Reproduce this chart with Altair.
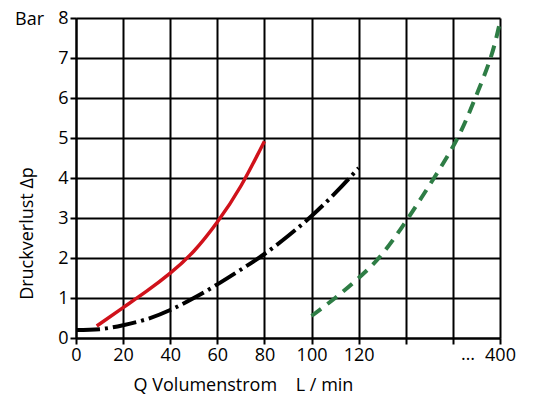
import altair as alt
import pandas as pd

# Data (x in grid units; 180 = "400")
red_x = [8.8, 20, 30, 40, 50, 60, 70, 80]
red_y = [0.3, 0.76, 1.17, 1.62, 2.17, 2.9, 3.8, 4.92]

black_x = [0, 10, 20, 30, 40, 50, 60, 70, 80, 90, 100, 110, 120]
black_y = [0.2, 0.22, 0.32, 0.47, 0.7, 1.0, 1.34, 1.71, 2.1, 2.55, 3.05, 3.62, 4.25]

green_x = [100, 110, 120, 130, 141, 152, 162, 169.5, 176, 180]
green_y = [0.55, 1.0, 1.5, 2.1, 3.0, 4.0, 5.0, 6.0, 7.0, 7.9]

x_ticks = [0, 20, 40, 60, 80, 100, 120, 140, 160, 180]
y_ticks = [0, 1, 2, 3, 4, 5, 6, 7, 8]

FONT = "Open Sans"
FS = 18

red_df = pd.DataFrame({"x": red_x, "y": red_y})
black_df = pd.DataFrame({"x": black_x, "y": black_y})
green_df = pd.DataFrame({"x": green_x, "y": green_y})

label_expr = "datum.value == 140 || datum.value == 160 ? '' : (datum.value == 180 ? '400' : datum.label)"

x_axis = alt.Axis(values=x_ticks, labelExpr=label_expr,
                  title="Q Volumenstrom\u00a0\u00a0\u00a0\u00a0L / min",
                  titleX=167, titleY=52,
                  titleAlign="center", titleBaseline="alphabetic")
y_axis = alt.Axis(values=y_ticks, title="Druckverlust Δp",
                  titleX=-44, titleY=215, titleAlign="center",
                  titleBaseline="alphabetic", titleAngle=270)

xs = alt.X("x:Q", scale=alt.Scale(domain=[0, 180], nice=False), axis=x_axis)
ys = alt.Y("y:Q", scale=alt.Scale(domain=[0, 8], nice=False), axis=y_axis)

black = alt.Chart(black_df).mark_line(
    color="black", strokeWidth=4, strokeDash=[24, 5, 3, 5], interpolate="natural"
).encode(x=xs, y=ys)

red = alt.Chart(red_df).mark_line(
    color="#d0121b", strokeWidth=3.5, interpolate="natural"
).encode(x=xs, y=ys)

green = alt.Chart(green_df).mark_line(
    color="#2e7d45", strokeWidth=4, strokeDash=[12, 8], interpolate="natural"
).encode(x=xs, y=ys)

bar_text = alt.Chart(pd.DataFrame({"t": ["Bar"]})).mark_text(
    font=FONT, fontSize=FS, color="black", align="left", baseline="alphabetic"
).encode(x=alt.value(-61), y=alt.value(7), text="t:N")

dots_text = alt.Chart(pd.DataFrame({"t": ["…"]})).mark_text(
    font=FONT, fontSize=FS, color="black", align="center", baseline="top"
).encode(x=alt.value(392), y=alt.value(328), text="t:N")

chart = alt.layer(black, red, green, bar_text, dots_text).properties(
    width=424, height=320,
    padding={"left": 68, "top": 10, "right": 25, "bottom": 62},
    autosize=alt.AutoSizeParams(type="none"),
).configure_view(strokeWidth=0).configure_axis(
    grid=True, gridColor="black", gridWidth=2, gridOpacity=1,
    domainColor="black", domainWidth=2,
    tickColor="black", tickWidth=2, tickSize=6,
    labelFont=FONT, labelFontSize=FS, labelColor="black", labelPadding=2,
    titleFont=FONT, titleFontSize=FS, titleFontWeight="normal", titleColor="black",
    labelFlush=False, labelOverlap=False,
)

chart.save("out.html", embed_options={"renderer": "svg", "actions": False})
